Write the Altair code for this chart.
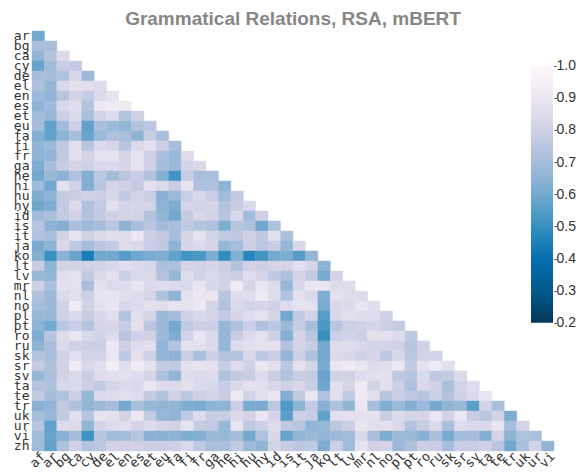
import altair as alt
import pandas as pd

columns = "af ar bg ca cy de el en es et eu fa fi fr ga he hi hu hy id is it ja ko lt lv mr nl no pl pt ro ru sk sr sv ta te tr uk ur vi".split()
rows = "ar bg ca cy de el en es et eu fa fi fr ga he hi hu hy id is it ja ko lt lv mr nl no pl pt ro ru sk sr sv ta te tr uk ur vi zh".split()

ar = [60]
bg = [71,70]
ca = [66,73,84]
cy = [58,69,78,77]
de = [70,70,72,83,68]
el = [72,67,83,87,86,85]
en = [68,66,74,81,77,84,88]
es = [65,69,83,85,73,90,91,91]
et = [69,67,79,84,71,81,85,73,80]
eu = [70,57,69,80,57,71,68,66,73,75]
fa = [63,57,65,70,58,68,72,71,65,78,71]
fi = [66,68,76,86,74,84,82,74,84,87,79,70]
fr = [65,66,76,86,82,87,88,82,88,80,71,68,85]
ga = [62,70,78,82,79,83,84,82,88,80,70,68,81,84]
he = [60,68,65,73,63,75,69,75,78,73,63,52,78,71,71]
hi = [69,60,87,80,63,74,82,80,77,87,84,78,88,72,72,65]
hu = [62,65,77,78,80,79,83,77,81,78,64,68,78,83,78,69,77]
hy = [59,62,77,84,72,77,87,81,82,81,65,62,81,81,82,73,78,83]
id_ = [69,71,77,80,73,77,80,81,81,73,66,60,77,83,81,74,83,69,80]
is_ = [74,65,63,71,68,70,75,65,70,75,69,71,76,73,72,62,74,72,59,72]
it = [72,71,81,88,80,84,86,85,90,79,77,70,82,88,81,77,76,80,76,86,72]
ja = [61,65,83,76,70,75,77,85,83,78,76,65,82,84,82,67,70,79,75,78,67,83]
ko = [63,50,65,58,44,60,60,55,59,61,62,57,52,53,62,49,63,47,52,60,62,55,66]
lt = [78,65,81,81,80,81,83,86,84,83,71,71,81,81,82,79,73,80,79,82,82,86,82,65]
lv = [67,66,86,87,77,84,87,79,84,84,73,67,85,81,84,80,78,85,82,76,72,81,77,61,81]
mr = [80,71,87,87,71,87,84,85,89,84,85,84,84,89,83,81,92,82,89,85,67,83,89,89,85,85]
nl = [72,68,84,86,79,88,88,86,85,82,72,65,87,90,89,74,85,85,91,85,73,87,83,62,87,85,85]
no = [70,68,81,92,81,87,89,83,84,87,86,88,88,90,82,73,84,81,82,80,85,88,87,61,83,84,89,86]
pl = [67,67,80,84,78,83,86,73,86,82,68,70,80,83,82,77,82,85,87,82,60,77,81,55,83,86,85,85,80]
pt = [65,60,74,78,73,82,82,78,87,75,68,60,76,79,79,67,72,79,72,75,68,78,70,53,74,79,80,82,79,77]
ro = [62,74,85,89,83,81,85,74,80,80,68,62,81,89,84,67,78,84,87,80,63,81,75,50,79,81,79,87,87,85,76]
ru = [65,71,84,80,79,79,90,80,85,86,66,73,87,87,84,67,85,86,87,87,73,81,78,60,85,85,83,81,81,80,74,80]
sk = [73,71,81,86,81,81,89,76,87,80,66,65,78,71,79,73,73,83,75,78,66,79,72,60,84,83,80,82,76,83,75,81,81]
sr = [77,72,81,92,83,86,93,86,92,87,77,76,86,88,87,78,85,80,90,86,75,87,82,61,89,92,89,85,86,90,77,87,92,86]
sv = [67,71,81,84,78,85,86,87,85,82,72,66,85,84,85,72,77,78,85,78,73,78,77,58,80,80,85,86,87,76,74,84,76,77,84]
ta = [73,72,83,84,79,77,82,84,83,89,85,84,87,84,83,78,84,87,86,83,80,83,78,59,86,82,91,81,87,79,72,83,80,71,81,85]
te = [77,70,72,79,67,84,85,86,85,77,72,80,75,79,81,78,91,81,86,89,63,77,89,72,86,77,91,86,74,78,76,74,79,73,80,84,89]
tr = [64,66,77,72,66,68,70,60,71,67,66,66,62,61,65,65,79,61,61,75,54,65,77,64,72,66,90,70,63,68,63,68,60,66,67,56,81,71]
uk = [70,67,77,86,74,88,87,81,90,77,67,66,76,85,78,78,84,81,89,82,56,79,78,57,86,87,87,87,78,84,82,82,89,81,89,78,74,81,62]
ur = [74,57,85,84,66,81,85,86,81,85,82,81,88,77,76,67,89,76,79,85,76,74,65,67,75,79,89,86,87,83,73,78,84,71,85,83,83,89,70,82]
vi = [69,58,64,70,51,74,69,70,74,64,64,65,62,63,68,67,70,60,72,83,58,66,68,66,68,69,84,71,62,68,68,64,71,61,70,70,63,81,65,72,71]
zh = [69,57,72,80,73,75,81,80,80,79,79,79,83,76,71,71,77,68,66,81,78,75,76,62,79,69,88,80,82,68,72,79,78,70,78,78,80,75,60,71,81,66]

matrix = [ar,bg,ca,cy,de,el,en,es,et,eu,fa,fi,fr,ga,he,hi,hu,hy,id_,is_,it,ja,ko,lt,lv,mr,nl,no,pl,pt,ro,ru,sk,sr,sv,ta,te,tr,uk,ur,vi,zh]

ramp_values = [0.2,0.3,0.4,0.5,0.6,0.7,0.8,0.9,1.0]
ramp_colors = ["#023858","#045a8d","#0570b0","#3690c0","#74a9cf","#a6bddb","#d0d1e6","#ece7f2","#fff7fb"]

records = [{"row": r, "col": columns[j], "value": v / 100}
           for r, vals in zip(rows, matrix) for j, v in enumerate(vals)]
df = pd.DataFrame(records)

color_scale = alt.Scale(domain=ramp_values, range=ramp_colors, interpolate="rgb")

heat = alt.Chart(df).mark_rect(strokeWidth=0.4).encode(
    x=alt.X("col:N", sort=columns, scale=alt.Scale(domain=columns, paddingInner=0, paddingOuter=0),
            axis=alt.Axis(title=None, ticks=False, domain=False, labelAngle=-45, labelAlign="right",
                          labelBaseline="middle", labelFont="DejaVu Sans Mono", labelOffset=5,
                          labelFontSize=13, labelColor="#333333", labelPadding=3, labelOverlap=False)),
    y=alt.Y("row:N", sort=rows, scale=alt.Scale(domain=rows, paddingInner=0, paddingOuter=0),
            axis=alt.Axis(title=None, ticks=False, domain=False, labelFont="DejaVu Sans Mono",
                          labelFontSize=13, labelColor="#333333", labelPadding=3, labelOverlap=False)),
    color=alt.Color("value:Q", scale=color_scale, legend=None),
    stroke=alt.Color("value:Q", scale=color_scale, legend=None),
)

gradient = alt.Gradient(
    gradient="linear", x1=0, x2=0, y1=1, y2=0,
    stops=[alt.GradientStop(offset=i / (len(ramp_colors) - 1), color=c) for i, c in enumerate(ramp_colors)],
)
bar_df = pd.DataFrame({"lo": [ramp_values[0]], "hi": [ramp_values[-1]]})
bar = alt.Chart(bar_df).mark_rect(color=gradient).encode(
    x=alt.value(499),
    x2=alt.value(521),
    y=alt.Y("lo:Q", scale=alt.Scale(domain=[-0.199, 1.108], nice=False, zero=False),
            axis=alt.Axis(orient="right", title=None, values=ramp_values, format=".1f", domain=False, grid=False,
                          tickSize=2, tickColor="#333333", labelFont="Liberation Sans", labelFontSize=14,
                          labelColor="#333333", labelPadding=0)),
    y2="hi:Q",
)

chart = alt.layer(heat, bar).resolve_scale(y="independent").properties(
    width=522,
    height=420,
    title=alt.TitleParams("Grammatical Relations, RSA, mBERT", font="Liberation Sans", fontSize=19,
                          fontWeight="bold", color="#868686", anchor="middle", offset=1),
    padding={"left": 24, "top": 23, "right": 22, "bottom": 19},
    autosize=alt.AutoSizeParams(type="none"),
).configure_view(stroke=None)

chart.save("out.html", embed_options={"renderer": "svg", "actions": False})
